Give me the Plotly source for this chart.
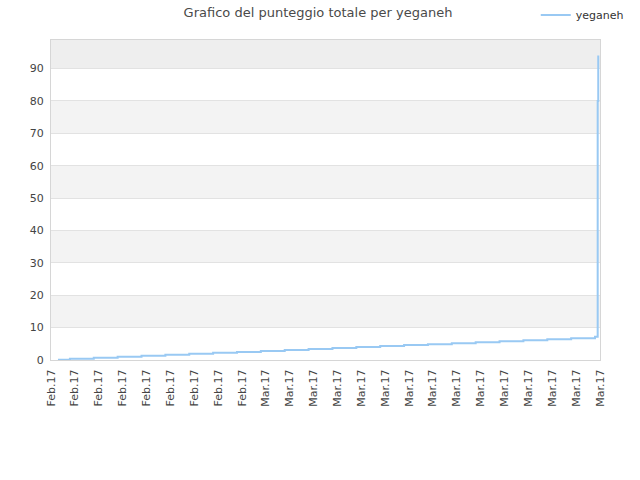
import plotly.graph_objects as go
import pandas as pd

# Data
timestamps = [
    "2017-02-20 07:00", "2017-02-20 19:00", "2017-02-21 19:00", "2017-02-22 19:00",
    "2017-02-23 19:00", "2017-02-24 19:00", "2017-02-25 19:00", "2017-02-26 19:00",
    "2017-02-27 19:00", "2017-02-28 19:00", "2017-03-01 19:00", "2017-03-02 19:00",
    "2017-03-03 19:00", "2017-03-04 19:00", "2017-03-05 19:00", "2017-03-06 19:00",
    "2017-03-07 19:00", "2017-03-08 19:00", "2017-03-09 19:00", "2017-03-10 19:00",
    "2017-03-11 19:00", "2017-03-12 19:00", "2017-03-13 19:00", "2017-03-14 19:00",
    "2017-03-14 21:40", "2017-03-14 22:15",
]
scores = [
    0.1, 0.4, 0.7, 1.0, 1.3, 1.6, 1.9, 2.2, 2.5, 2.8, 3.1, 3.4, 3.7,
    4.0, 4.3, 4.6, 4.9, 5.2, 5.5, 5.8, 6.1, 6.4, 6.7, 7.2, 80, 94,
]
series_name = "yeganeh"
title_text = "Grafico del punteggio totale per yeganeh"
x_start = "2017-02-20"
x_end = "2017-03-15"
y_max = 98.8
y_ticks = [0, 10, 20, 30, 40, 50, 60, 70, 80, 90]
band_lows = [10, 30, 50, 70]

tick_dates = pd.date_range(x_start, x_end, freq="D")
tick_labels = [d.strftime("%b.%y") for d in tick_dates]

W, H = 640, 480

fig = go.Figure()
fig.add_trace(go.Scatter(
    x=timestamps, y=scores, name=series_name, mode="lines",
    line=dict(color="#99c9f3", width=2, shape="hv"),
))

band_shapes = []
for lo in band_lows:
    band_shapes.append(dict(type="rect", xref="paper", yref="y", x0=0, x1=1, y0=lo, y1=lo + 10,
                            fillcolor="#f3f3f3", line=dict(width=0), layer="below"))
band_shapes.append(dict(type="rect", xref="paper", yref="y", x0=0, x1=1, y0=90, y1=y_max,
                        fillcolor="#eeeeee", line=dict(width=0), layer="below"))

fig.update_layout(
    width=W, height=H,
    margin=dict(l=51, r=40, t=40, b=120, autoexpand=False),
    paper_bgcolor="white", plot_bgcolor="white",
    font=dict(family="DejaVu Sans", size=11, color="#444444"),
    title=dict(text=title_text, x=318 / W, xanchor="center", y=1 - 12 / H, yanchor="middle",
               font=dict(family="DejaVu Sans", size=13, color="#4a4a4a")),
    showlegend=True,
    legend=dict(x=0.883, xanchor="left", y=1.078, yanchor="middle",
                bgcolor="rgba(0,0,0,0)", font=dict(size=11, color="#333333"),
                itemwidth=30),
    shapes=band_shapes,
    xaxis=dict(
        type="date", range=[x_start, x_end],
        tickmode="array", tickvals=list(tick_dates), ticktext=tick_labels,
        tickangle=-90, ticks="", ticklabelstandoff=4,
        showgrid=False, showline=True, linecolor="#d6d6d6", linewidth=1, mirror=True,
        zeroline=False, tickfont=dict(size=11, color="#444444"),
    ),
    yaxis=dict(
        range=[0, y_max], tickmode="array", tickvals=y_ticks,
        showgrid=True, gridcolor="#e2e2e2", gridwidth=1,
        showline=True, linecolor="#d6d6d6", linewidth=1, mirror=True,
        zeroline=False, ticks="", ticklabelstandoff=4,
        tickfont=dict(size=11, color="#444444"),
    ),
)

fig.write_html("out.html", config={"displayModeBar": False},
               post_script="document.body.style.margin='0';")
